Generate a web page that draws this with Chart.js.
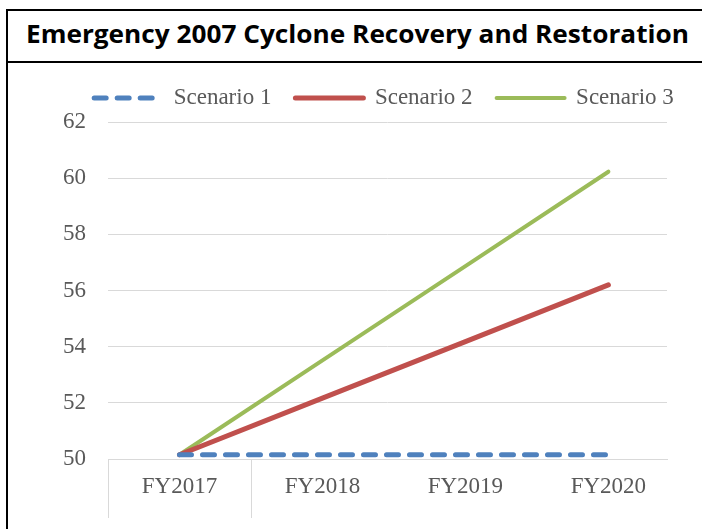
<!DOCTYPE html>
<html>
<head>
<meta charset="utf-8">
<script src="https://cdn.jsdelivr.net/npm/chart.js@4"></script>
<style>
  html, body { margin: 0; padding: 0; background: #fff; overflow: hidden; width: 702px; height: 529px; }
  .frame { position: absolute; left: 6px; top: 9px; width: 760px; height: 600px; border: 2px solid #000; box-sizing: border-box; }
  .rule { position: absolute; left: 6px; top: 61px; width: 760px; height: 2px; background: #000; }
  #title { position: absolute; left: 26px; top: 21px; font: bold 25px "Open Sans", sans-serif; line-height: 25px; white-space: nowrap; color: #000; transform-origin: left top; }
  .wrap { position: absolute; left: 0; top: 0; width: 702px; height: 529px; }
</style>
</head>
<body>
<div class="frame"></div>
<div class="rule"></div>
<span id="title">Emergency 2007 Cyclone Recovery and Restoration</span>
<div class="wrap"><canvas id="chart" width="702" height="529"></canvas></div>
<script>
  // values
  const categories = ["FY2017", "FY2018", "FY2019", "FY2020"];
  const scenario1 = [50.15, 50.15, 50.15, 50.15];
  const scenario2 = [50.15, 52.17, 54.18, 56.2];
  const scenario3 = [50.15, 53.51, 56.87, 60.23];
  const yTicks = [50, 52, 54, 56, 58, 60, 62];

  // squeeze the title to the width it has in the picture
  const titleEl = document.getElementById("title");
  titleEl.style.transform = "scaleX(" + (663 / titleEl.getBoundingClientRect().width) + ")";

  const FONT = { family: "'Liberation Serif', 'Times New Roman', serif", size: 23 };
  const GREY = "#595959";
  const GRID = "#d9d9d9";

  const toPoints = arr => arr.map((v, i) => ({ x: i, y: v }));

  // category dividers below the axis (Excel-style tick marks between categories)
  const dividers = {
    id: "dividers",
    afterDraw(chart) {
      const xs = chart.scales.x, c = chart.ctx;
      c.save();
      c.strokeStyle = GRID;
      c.lineWidth = 1;
      [-0.5, 0.5].forEach(v => {
        const px = Math.round(xs.getPixelForValue(v)) + 0.5;
        c.beginPath();
        c.moveTo(px, xs.top);
        c.lineTo(px, xs.top + 59);
        c.stroke();
      });
      c.restore();
    }
  };

  // the legend row sits a bit right of centre (and close to the plot) in the original
  const legendShift = {
    id: "legendShift",
    afterLayout(chart) {
      const lg = chart.legend;
      lg.left += 35.5;
      lg.right += 35.5;
      lg.top -= 2.5;
      lg.bottom -= 2.5;
    }
  };

  new Chart(document.getElementById("chart"), {
    type: "line",
    data: {
      datasets: [
        { label: "Scenario 1", data: toPoints(scenario1), borderColor: "#4f81bd", backgroundColor: "#4f81bd",
          borderWidth: 5, borderDash: [12, 11], borderCapStyle: "round" },
        { label: "Scenario 2", data: toPoints(scenario2), borderColor: "#c0504d", backgroundColor: "#c0504d",
          borderWidth: 5, borderCapStyle: "round" },
        { label: "Scenario 3", data: toPoints(scenario3), borderColor: "#9bbb59", backgroundColor: "#9bbb59",
          borderWidth: 4, borderCapStyle: "round" }
      ]
    },
    options: {
      responsive: false,
      animation: false,
      layout: { padding: { top: 65, left: 30, right: 35, bottom: 0 } },
      elements: { point: { radius: 0 }, line: { tension: 0 } },
      plugins: {
        tooltip: { enabled: false },
        legend: {
          position: "top",
          maxHeight: 64,
          labels: {
            usePointStyle: true,
            pointStyleWidth: 68,
            padding: 24,
            color: GREY,
            font: FONT,
            // line samples keep the dataset's dash pattern
            generateLabels: chart => chart.data.datasets.map((ds, i) => ({
              text: ds.label,
              datasetIndex: i,
              pointStyle: "line",
              fillStyle: ds.borderColor,
              strokeStyle: ds.borderColor,
              lineWidth: ds.borderWidth,
              lineDash: ds.borderDash || [],
              lineCap: ds.borderCapStyle,
              fontColor: GREY
            }))
          }
        }
      },
      scales: {
        x: {
          type: "linear",
          min: -0.5,
          max: 3.41,
          afterBuildTicks: s => { s.ticks = categories.map((_, i) => ({ value: i })); },
          afterFit: s => { s.height = 70; },
          grid: { display: false, drawTicks: false },
          border: { display: true, color: GRID, width: 1 },
          ticks: {
            autoSkip: false, maxRotation: 0, padding: 14,
            color: GREY, font: FONT,
            callback: v => categories[v]
          }
        },
        y: {
          min: 50,
          max: 62,
          afterBuildTicks: s => { s.ticks = yTicks.map(v => ({ value: v })); },
          afterFit: s => { s.width = 78; },
          grid: { color: GRID, lineWidth: 1, drawTicks: false },
          border: { display: false },
          ticks: { padding: 22, color: GREY, font: FONT }
        }
      }
    },
    plugins: [dividers, legendShift]
  });
</script>
</body>
</html>
